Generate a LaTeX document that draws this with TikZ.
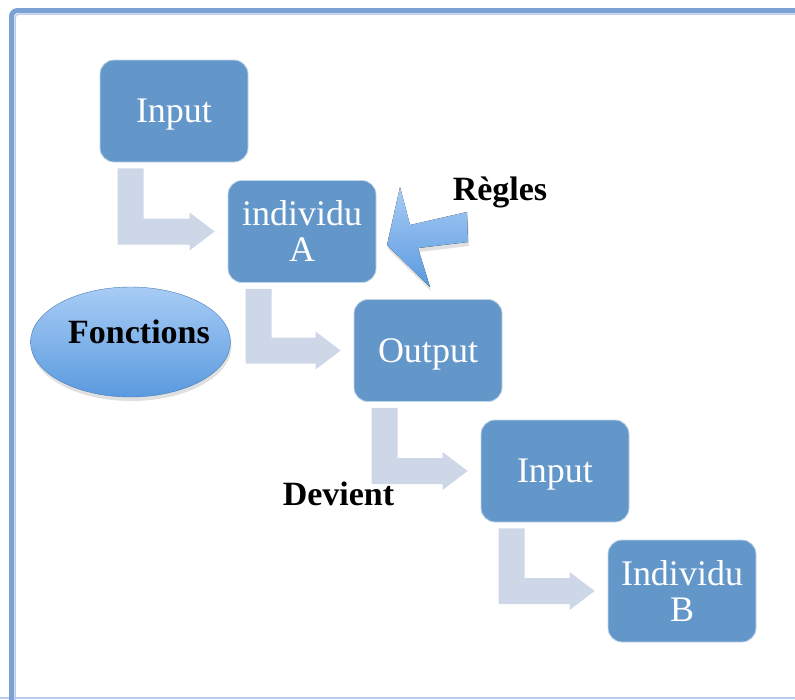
\documentclass[tikz,border=0pt]{standalone}
\usepackage{fontspec}
\setmainfont{Liberation Serif}
\usetikzlibrary{calc,shadows,shadings,shapes.geometric}
\definecolor{boxblue}{HTML}{6396C9}
\definecolor{arrowgrey}{HTML}{CDD7E7}
\definecolor{framecol}{HTML}{7CA1D5}
\definecolor{framelight}{HTML}{B9CDEB}
\definecolor{lightb}{HTML}{A8CCF5}
\definecolor{darkb}{HTML}{5A9ADF}
\tikzset{
  stepbox/.style={rounded corners=14pt, fill=boxblue, draw=boxblue!40!white, line width=0.8pt,
    minimum width=148pt, minimum height=102pt, text=white, align=center,
    font=\fontsize{36}{36}\selectfont, inner sep=0pt, text depth=0pt},
  arrowfill/.style={fill=arrowgrey},
  lbl/.style={font=\fontsize{34}{34}\selectfont\bfseries, text=black, anchor=base},
  softshadow/.style={drop shadow={shadow xshift=1pt, shadow yshift=-4pt, opacity=0.2, fill=black!60}}
}
\newcommand{\bentarr}[2]{%
  \fill[arrowfill] let \p1=(#1.south west), \p2=(#2.west) in
    (\x1+18pt,\y1-6pt) -- (\x1+44pt,\y1-6pt) -- (\x1+44pt,\y2+13pt) --
    (\x2-38pt,\y2+13pt) -- (\x2-38pt,\y2+19pt) -- (\x2-13pt,\y2) --
    (\x2-38pt,\y2-19pt) -- (\x2-38pt,\y2-13pt) -- (\x1+18pt,\y2-13pt) -- cycle;
}
\begin{document}
\begin{tikzpicture}[x=1pt,y=-1pt]
\useasboundingbox (0,0) rectangle (795,699);
% frame
\begin{scope}
\clip (0,0) rectangle (795,699);
\draw[framelight, line width=2pt] (0,697.5) -- (795,697.5);
\draw[framecol, line width=5pt, rounded corners=6pt] (11.5,705) -- (11.5,10.5) -- (800,10.5);
\draw[framelight, line width=1.5pt, rounded corners=4pt] (15,705) -- (15,14) -- (800,14);
\end{scope}
% boxes
\node[stepbox] (in1) at (174,111) {Input};
\node[stepbox] (indA) at (302,231.5) {individu\\A};
\node[stepbox] (out) at (428,350.5) {Output};
\node[stepbox] (in2) at (555,471) {Input};
\node[stepbox] (indB) at (682,591) {Individu\\B};
% bent arrows
\bentarr{in1}{indA}
\bentarr{indA}{out}
\bentarr{out}{in2}
\bentarr{in2}{indB}
% ellipse
\node[ellipse, minimum width=200pt, minimum height=110pt, top color=lightb, bottom color=darkb,
  draw=darkb!80!black, line width=0.4pt, softshadow] (fonc) at (130.5,342) {};
\node[lbl] (foncl) at (139,343) {Fonctions};
% Regles arrow
\coordinate (rtip) at (387,245);
\fill[top color=lightb, bottom color=darkb, softshadow]
  (rtip) -- (400,187) -- (410,225) -- (467,212) -- (468,242) -- (418,248) -- (430,287) -- cycle;
\node[lbl] (regles) at (500,200) {Règles};
\node[lbl] (devient) at (338.5,505) {Devient};
\end{tikzpicture}
\end{document}
